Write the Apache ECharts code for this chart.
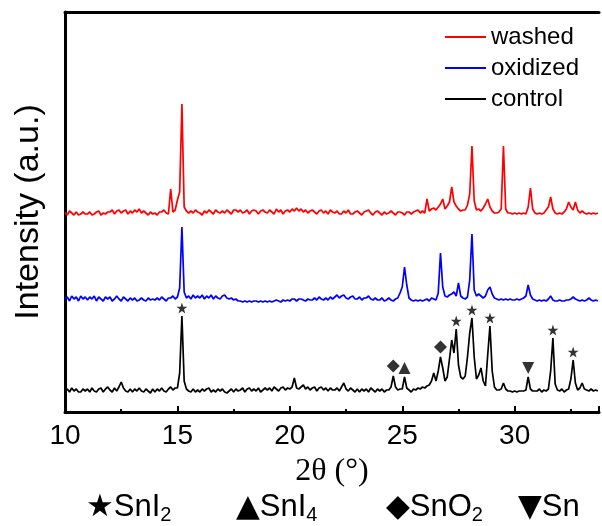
<!DOCTYPE html>
<html>
<head>
    <meta charset="utf-8">
    <title>XRD</title>
    <script src="https://cdn.jsdelivr.net/npm/echarts@6/dist/echarts.min.js"></script>
    <style>
        html, body { margin: 0; padding: 0; background: #fff; }
        #chart { width: 602px; height: 526px; }
    </style>
</head>
<body>
<div id="chart"></div>
<script>
    // 2θ scan positions (deg)
    var twoTheta = [
        10.0,10.1,10.2,10.3,10.4,10.5,10.6,10.7,10.8,10.9,
        11.0,11.1,11.2,11.3,11.4,11.5,11.6,11.7,11.8,11.9,
        12.0,12.1,12.2,12.3,12.4,12.5,12.6,12.7,12.8,12.9,
        13.0,13.1,13.2,13.3,13.4,13.5,13.6,13.7,13.8,13.9,
        14.0,14.1,14.2,14.3,14.4,14.5,14.6,14.7,14.8,14.9,
        15.0,15.1,15.2,15.3,15.4,15.5,15.6,15.7,15.8,15.9,
        16.0,16.1,16.2,16.3,16.4,16.5,16.6,16.7,16.8,16.9,
        17.0,17.1,17.2,17.3,17.4,17.5,17.6,17.7,17.8,17.9,
        18.0,18.1,18.2,18.3,18.4,18.5,18.6,18.7,18.8,18.9,
        19.0,19.1,19.2,19.3,19.4,19.5,19.6,19.7,19.8,19.9,
        20.0,20.1,20.2,20.3,20.4,20.5,20.6,20.7,20.8,20.9,
        21.0,21.1,21.2,21.3,21.4,21.5,21.6,21.7,21.8,21.9,
        22.0,22.1,22.2,22.3,22.4,22.5,22.6,22.7,22.8,22.9,
        23.0,23.1,23.2,23.3,23.4,23.5,23.6,23.7,23.8,23.9,
        24.0,24.1,24.2,24.3,24.4,24.5,24.6,24.7,24.8,24.9,
        25.0,25.1,25.2,25.3,25.4,25.5,25.6,25.7,25.8,25.9,
        26.0,26.1,26.2,26.3,26.4,26.5,26.6,26.7,26.8,26.9,
        27.0,27.1,27.2,27.3,27.4,27.5,27.6,27.7,27.8,27.9,
        28.0,28.1,28.2,28.3,28.4,28.5,28.6,28.7,28.8,28.9,
        29.0,29.1,29.2,29.3,29.4,29.5,29.6,29.7,29.8,29.9,
        30.0,30.1,30.2,30.3,30.4,30.5,30.6,30.7,30.8,30.9,
        31.0,31.1,31.2,31.3,31.4,31.5,31.6,31.7,31.8,31.9,
        32.0,32.1,32.2,32.3,32.4,32.5,32.6,32.7,32.8,32.9,
        33.0,33.1,33.2,33.3,33.4,33.5,33.6,33.7
    ];

    // intensities (a.u.), one value per 2θ step
    var control = [
        2,4,1,5,2,4,1,1,4,2,
        4,1,5,2,1,4,5,1,4,6,
        3,1,5,2,6,11,5,2,1,4,
        1,4,2,5,2,1,4,2,0,4,
        1,4,2,5,2,1,4,6,3,5,
        5,20,77,12,4,2,1,4,1,3,
        1,4,2,4,5,1,3,1,4,2,
        4,1,0,2,4,1,4,2,3,5,
        1,4,5,2,4,2,5,1,3,5,
        3,5,2,6,4,2,5,6,3,5,
        4,6,15,5,4,6,8,4,6,3,
        5,6,2,5,6,3,5,2,5,3,
        3,5,2,6,10,4,2,5,3,1,
        4,1,4,2,4,1,5,3,1,4,
        2,4,1,3,3,6,17,6,3,4,
        4,16,5,3,1,4,3,5,4,6,
        5,7,8,12,20,12,22,36,25,12,
        16,34,53,40,64,28,16,14,17,36,
        60,75,36,14,18,25,12,7,38,67,
        22,6,3,3,4,10,4,2,2,1,
        2,1,2,2,2,3,16,4,2,2,
        2,4,1,3,2,4,22,55,9,3,
        2,4,1,3,4,14,33,10,3,5,
        10,4,3,2,4,2,3,2
    ];

    var oxidized = [
        3,5,1,6,3,5,1,6,3,5,
        2,5,3,6,1,5,3,1,5,3,
        5,1,3,6,3,1,5,3,1,4,
        2,4,1,2,4,2,1,4,2,3,
        2,4,2,5,3,1,4,4,6,3,
        5,14,75,10,4,6,3,7,4,6,
        4,7,3,6,4,7,3,6,4,3,
        6,7,4,3,4,2,3,1,1,0,
        1,0,1,0,1,1,0,1,0,1,
        0,1,0,1,2,1,0,2,1,2,
        1,3,3,1,3,3,2,1,3,2,
        2,4,2,5,3,2,4,2,5,3,
        5,7,4,6,7,4,3,5,6,3,
        3,5,2,4,4,6,3,2,4,2,
        2,4,1,2,4,2,1,3,4,9,
        15,35,17,4,2,1,2,1,2,1,
        2,3,1,4,3,2,9,49,15,6,
        5,7,8,10,6,19,6,4,3,5,
        22,68,12,6,8,6,4,6,12,15,
        8,4,3,2,3,2,3,2,3,2,
        2,3,2,3,4,6,17,7,3,2,
        1,2,1,2,1,3,6,2,1,1,
        2,1,1,2,2,3,5,3,2,1,
        2,1,2,4,2,1,2,1
    ];

    var washed = [
        3,1,5,3,1,4,1,2,4,2,
        2,4,1,2,4,5,1,3,2,4,
        4,6,2,5,6,3,5,6,2,5,
        3,6,4,7,3,5,3,1,4,2,
        3,1,4,4,6,3,2,27,4,6,
        16,24,112,9,5,3,5,3,6,4,
        3,1,5,3,6,4,2,6,4,3,
        5,3,6,4,2,6,6,4,6,3,
        4,6,2,5,6,5,2,5,6,4,
        3,6,4,2,7,4,6,2,5,6,
        4,7,5,8,5,7,4,6,3,5,
        6,4,2,5,6,3,5,2,6,4,
        3,5,2,2,5,3,6,2,2,4,
        5,3,1,4,5,6,3,1,4,5,
        3,1,4,2,3,5,3,1,4,4,
        3,1,4,4,2,4,5,6,3,5,
        3,17,5,7,8,6,9,12,17,7,
        10,14,29,14,10,7,5,6,6,11,
        22,70,15,6,7,5,8,12,17,9,
        5,3,3,4,7,70,7,3,3,2,
        3,2,3,2,3,2,9,28,7,3,
        2,3,2,3,6,9,19,7,3,2,
        3,2,4,7,14,9,6,14,6,3,
        5,3,2,3,2,3,2,3
    ];

    // vertical stacking offset of each pattern
    var offsetControl = 19;
    var offsetOxidized = 110;
    var offsetWashed = 196;

    // phase assignment of control peaks (2θ)
    var sni2Peaks = [15.2, 27.4, 28.1, 28.9, 31.7, 32.6];
    var sni4Peaks = [25.1];
    var sno2Peaks = [24.6, 26.7];
    var snPeaks = [30.6];

    var xTicks = [10, 15, 20, 25, 30];

    function stack(values, offset) {
        var out = [];
        for (var i = 0; i < values.length; i++) {
            out.push([twoTheta[i], values[i] + offset]);
        }
        return out;
    }

    function peakPoints(list) {
        var out = [];
        list.forEach(function (x) {
            for (var i = 0; i < twoTheta.length; i++) {
                if (Math.abs(twoTheta[i] - x) < 1e-6) {
                    out.push([x, control[i] + offsetControl]);
                }
            }
        });
        return out;
    }

    var starPath = 'path://M50,2 L61.8,38.2 L99,38.2 L68.9,60.5 L80.3,96.6 L50,74.3 L19.7,96.6 L31.1,60.5 L1,38.2 L38.2,38.2 Z';

    function marker(list, symbol, size, dy, rotate) {
        return {
            type: 'scatter',
            data: peakPoints(list),
            symbol: symbol,
            symbolSize: size,
            symbolRotate: rotate || 0,
            symbolOffset: [0, dy],
            itemStyle: { color: '#000' },
            silent: true,
            z: 5
        };
    }

    var font = 'Liberation Sans, Arial, sans-serif';

    var myChart = echarts.init(document.getElementById('chart'));

    var lbl = {
        s: { fontFamily: 'DejaVu Sans', fontSize: 31, lineHeight: 36, color: '#000' },
        t: { fontFamily: font, fontSize: 31, lineHeight: 36, color: '#000' },
        b: { fontFamily: font, fontSize: 20, lineHeight: 14, verticalAlign: 'bottom', color: '#000' }
    };

    myChart.setOption({
        animation: false,
        backgroundColor: '#fff',
        grid: { left: 65, right: 0, top: 12, bottom: 114 },
        legend: {
            orient: 'vertical',
            left: 440,
            top: 20,
            itemWidth: 41,
            itemHeight: 2,
            itemGap: 7,
            icon: 'rect',
            textStyle: { fontFamily: font, fontSize: 24, color: '#000' },
            data: ['washed', 'oxidized', 'control']
        },
        xAxis: [{
            type: 'value',
            min: 10,
            max: 33.75,
            interval: 5,
            name: '2θ (°)',
            nameLocation: 'middle',
            nameGap: 44,
            nameTextStyle: { fontFamily: 'Liberation Serif, Times New Roman, serif', fontSize: 32, color: '#000' },
            axisLine: { show: true, lineStyle: { color: '#000', width: 3 } },
            axisTick: { show: true, inside: true, length: 6, lineStyle: { color: '#000', width: 2 } },
            minorTick: { show: true, splitNumber: 2, length: 3, lineStyle: { color: '#000', width: 2 } },
            axisLabel: {
                margin: 10,
                fontFamily: font, fontSize: 28, color: '#000',
                formatter: function (v) { return xTicks.indexOf(v) >= 0 ? String(v) : ''; }
            },
            splitLine: { show: false }
        }, {
            type: 'value',
            position: 'top',
            min: 10,
            max: 33.75,
            axisLine: { show: true, lineStyle: { color: '#000', width: 3 } },
            axisTick: { show: false },
            axisLabel: { show: false },
            splitLine: { show: false }
        }],
        yAxis: {
            type: 'value',
            min: 0,
            max: 400,
            name: 'Intensity (a.u.)',
            nameLocation: 'middle',
            nameGap: 19,
            nameTextStyle: { fontFamily: font, fontSize: 34, color: '#000' },
            axisLine: { show: true, lineStyle: { color: '#000', width: 3 } },
            axisTick: { show: false },
            axisLabel: { show: false },
            splitLine: { show: false }
        },
        series: [
            {
                name: 'washed', type: 'line', data: stack(washed, offsetWashed),
                showSymbol: false, color: '#ff0000', lineStyle: { width: 1.7 }, silent: true
            },
            {
                name: 'oxidized', type: 'line', data: stack(oxidized, offsetOxidized),
                showSymbol: false, color: '#0000ff', lineStyle: { width: 1.7 }, silent: true
            },
            {
                name: 'control', type: 'line', data: stack(control, offsetControl),
                showSymbol: false, color: '#000000', lineStyle: { width: 1.7 }, silent: true
            },
            marker(sni2Peaks, starPath, 11, -8),
            marker(sni4Peaks, 'triangle', 12, -9),
            marker(sno2Peaks, 'diamond', 13, -10),
            marker(snPeaks, 'triangle', 12, -9, 180)
        ],
        graphic: [
            { type: 'text', left: 86, top: 492, style: { text: '{s|★}{t|SnI}{b|2}', rich: lbl } },
            { type: 'text', left: 236, top: 492, style: { text: '{s|▲}{t|SnI}{b|4}', rich: lbl } },
            { type: 'text', left: 386, top: 492, style: { text: '{s|◆}{t|SnO}{b|2}', rich: lbl } },
            { type: 'text', left: 518, top: 492, style: { text: '{s|▼}{t|Sn}', rich: lbl } }
        ]
    });
</script>
</body>
</html>
